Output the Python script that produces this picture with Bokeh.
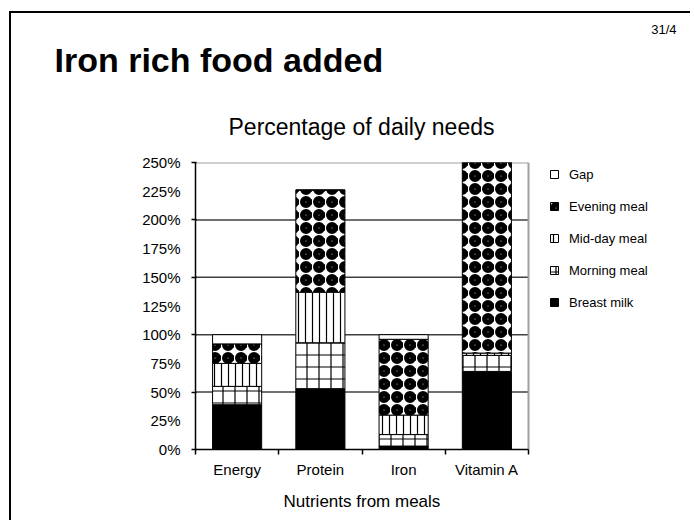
from bokeh.plotting import figure
from bokeh.models import (Range1d, FixedTicker, PrintfTickFormatter, Title,
                          Legend, LegendItem, ColumnDataSource)
from bokeh.embed import file_html
from bokeh.resources import INLINE

# ---------------- data ----------------
categories = ["Energy", "Protein", "Iron", "Vitamin A"]
breast_milk = [39, 53, 3, 68]
morning_meal = [16, 40, 10, 14]
midday_meal = [20, 44, 17, 2]
evening_meal = [17, 89, 66, 176]
gap = [8, 0, 4, 0]
series_names = ["Breast milk", "Morning meal", "Mid-day meal", "Evening meal", "Gap"]
y_tick_values = list(range(0, 251, 25))
y_grid_values = [50, 100, 150, 200]
Y_MAX = 250

FONT = "Liberation Sans"

# ---------------- geometry ----------------
W, H = 690, 520
FRAME_LEFT, FRAME_TOP, FRAME_BOTTOM = 195, 162, 450
BAR_AREA_RIGHT = 528          # where the category axis ends
n = len(categories)
x_end = n * (W - FRAME_LEFT) / (BAR_AREA_RIGHT - FRAME_LEFT)

x_pos = [i + 0.5 for i in range(n)]
x_bounds = list(range(n + 1))
source = ColumnDataSource(dict(x=x_pos, bm=breast_milk, mo=morning_meal,
                               md=midday_meal, ev=evening_meal, gap=gap))

p = figure(width=W, height=H, output_backend="svg", toolbar_location=None,
           x_range=Range1d(0, x_end), y_range=Range1d(0, Y_MAX),
           min_border_left=FRAME_LEFT, min_border_right=0,
           min_border_top=FRAME_TOP, min_border_bottom=H - FRAME_BOTTOM)
p.title.visible = False
p.background_fill_color = "white"
p.border_fill_color = None
p.outline_line_color = None
# slide frame (top and left edges of the slide)
p.styles = {
    "background-image": "linear-gradient(black, black), linear-gradient(black, black)",
    "background-size": "2px 100%, 100% 2px",
    "background-position": "9px 11px, 9px 11px",
    "background-repeat": "no-repeat",
}

# grid lines only across the bar area
p.segment(x0=0, x1=n, y0=y_grid_values, y1=y_grid_values,
          line_color="#404040", line_width=1.5, level="underlay")
# grey plot-area border (top and right)
p.segment(x0=[0, n], x1=[n, n], y0=[Y_MAX, 0], y1=[Y_MAX, Y_MAX],
          line_color="#a0a0a0", line_width=2, level="underlay")

renderers = p.vbar_stack(
    ["bm", "mo", "md", "ev", "gap"], x="x", width=0.59, source=source,
    fill_color=["black", "white", "white", "white", "white"],
    line_color="black", line_width=1,
    hatch_pattern=["blank", "cross", "vertical_line", "ring", "blank"],
    hatch_scale=[12, 12, 7, 13, 12],
    hatch_weight=[1, 1.2, 1.2, 5.5, 1],
    hatch_color="black",
)

# axes
p.xaxis.bounds = (0, n)
p.xaxis.ticker = FixedTicker(ticks=x_pos, minor_ticks=x_bounds)
p.xaxis.major_label_overrides = {x: c for x, c in zip(x_pos, categories)}
p.xaxis.major_tick_line_color = None
p.xaxis.major_tick_out = 0
p.xaxis.major_tick_in = 0
p.xaxis.minor_tick_line_color = "black"
p.xaxis.minor_tick_out = 5
p.xaxis.minor_tick_in = 0
p.xaxis.minor_tick_line_width = 1.5
p.xaxis.major_label_standoff = 6

p.yaxis.ticker = FixedTicker(ticks=y_tick_values, minor_ticks=[0] + y_grid_values + [Y_MAX])
p.yaxis.formatter = PrintfTickFormatter(format="%d%%")
p.yaxis.major_tick_line_color = None
p.yaxis.major_tick_out = 0
p.yaxis.major_tick_in = 0
p.yaxis.minor_tick_line_color = "black"
p.yaxis.minor_tick_out = 4
p.yaxis.minor_tick_in = 1
p.yaxis.minor_tick_line_width = 1.5
p.yaxis.major_label_standoff = 11

for ax in (p.xaxis, p.yaxis):
    ax.axis_line_color = "black"
    ax.axis_line_width = 1.5
    ax.major_label_text_font = FONT
    ax.major_label_text_font_size = "15px"
    ax.major_label_text_color = "black"

p.xgrid.visible = False
p.ygrid.visible = False

# x-axis title, centred under the bar area
p.add_layout(Title(text="Nutrients from meals", align="left", offset=88,
                   text_font=FONT, text_font_size="17px", text_color="black",
                   text_font_style="normal", standoff=19), "below")

# legend (inside the widened frame, right of the bars)
order = [4, 3, 2, 1, 0]
items = [LegendItem(label=series_names[i], renderers=[renderers[i]]) for i in order]
legend = Legend(items=items, location=(354, 139), orientation="vertical",
                padding=0, margin=0, spacing=16, label_height=16,
                glyph_width=10, glyph_height=10, label_standoff=10,
                label_text_font=FONT, label_text_font_size="13px",
                label_text_color="black",
                border_line_color=None, background_fill_alpha=0)
p.add_layout(legend, "center")

# titles (stacked outward from the plot frame)
p.add_layout(Title(text="Percentage of daily needs", align="left", offset=33,
                   text_font=FONT, text_font_size="23px", text_color="black",
                   text_font_style="normal", standoff=46), "above")
p.add_layout(Title(text="Iron rich food added", align="left", offset=-141,
                   text_font=FONT, text_font_size="34px", text_color="black",
                   text_font_style="bold", standoff=20), "above")
p.add_layout(Title(text="31/4", align="right", offset=14,
                   text_font=FONT, text_font_size="13px", text_color="black",
                   text_font_style="normal", standoff=-16), "above")

open("out.html", "w").write(file_html(p, INLINE))
